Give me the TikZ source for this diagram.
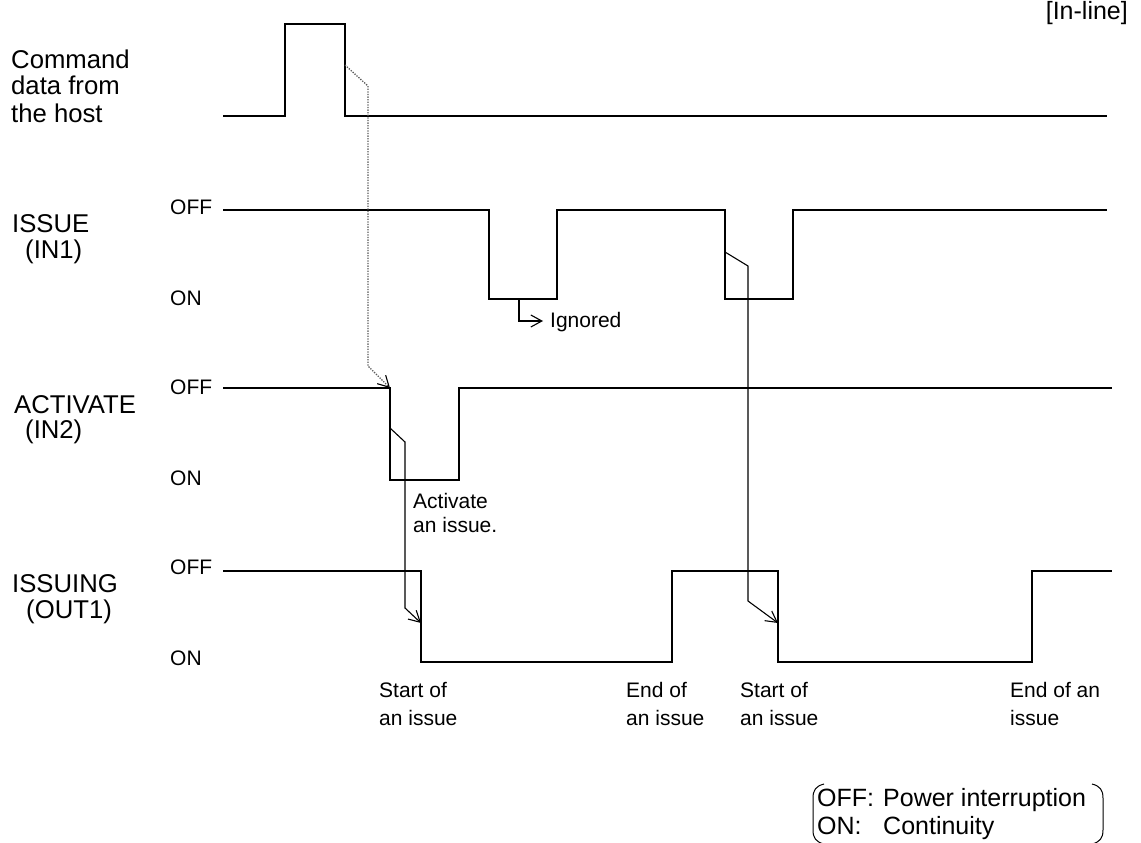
\documentclass[tikz,border=0pt]{standalone}
\usepackage{fontspec}
\setmainfont{Liberation Sans}
\usetikzlibrary{arrows.meta}
\tikzset{
  sig/.style={line width=1.8pt, line join=miter},
  ptr/.style={line width=1.1pt, -{Straight Barb[length=11pt,width=12pt,line width=1.1pt]}},
  dotptr/.style={line width=1.3pt, gray!70!black, dash pattern=on 1.3pt off 1.3pt, -{Straight Barb[length=11pt,width=12pt,line width=1.1pt,black]}},
  big/.style={font=\fontsize{25.7}{27}\selectfont, align=left, inner sep=0pt},
  small/.style={font=\fontsize{21}{27.5}\selectfont, align=left, inner sep=0pt},
  leg/.style={font=\fontsize{25}{28}\selectfont, align=left, inner sep=0pt},
}
\begin{document}
\begin{tikzpicture}[x=1pt,y=-1pt]
\useasboundingbox (0,0) rectangle (1141,843);
% waveform coordinates
\coordinate (c0) at (223,116); \coordinate (c1) at (285,116); \coordinate (c2) at (285,24);
\coordinate (c3) at (345,24); \coordinate (c4) at (345,116); \coordinate (c5) at (1107,116);
\draw[sig] (c0) -- (c1) -- (c2) -- (c3) -- (c4) -- (c5);

\coordinate (i0) at (223,210); \coordinate (i1) at (489,210); \coordinate (i2) at (489,299);
\coordinate (i3) at (557,299); \coordinate (i4) at (557,210); \coordinate (i5) at (725,210);
\coordinate (i6) at (725,299); \coordinate (i7) at (793,299); \coordinate (i8) at (793,210);
\coordinate (i9) at (1107,210);
\draw[sig] (i0) -- (i1) -- (i2) -- (i3) -- (i4) -- (i5) -- (i6) -- (i7) -- (i8) -- (i9);

\coordinate (a0) at (223,388); \coordinate (a1) at (390,388); \coordinate (a2) at (390,480);
\coordinate (a3) at (459,480); \coordinate (a4) at (459,388); \coordinate (a5) at (1112,388);
\draw[sig] (a0) -- (a1) -- (a2) -- (a3) -- (a4) -- (a5);

\coordinate (o0) at (223,571); \coordinate (o1) at (421,571); \coordinate (o2) at (421,662);
\coordinate (o3) at (672,662); \coordinate (o4) at (672,571); \coordinate (o5) at (778,571);
\coordinate (o6) at (778,662); \coordinate (o7) at (1032,662); \coordinate (o8) at (1032,571);
\coordinate (o9) at (1112,571);
\draw[sig] (o0) -- (o1) -- (o2) -- (o3) -- (o4) -- (o5) -- (o6) -- (o7) -- (o8) -- (o9);

% causal arrows
\coordinate (d0) at (345,65); \coordinate (d1) at (368,86); \coordinate (d2) at (368,366); \coordinate (d3) at (390,388);
\draw[dotptr] (d0) -- (d1) -- (d2) -- (d3);

\coordinate (g0) at (519,299); \coordinate (g1) at (519,321); \coordinate (g2) at (543,321);
\draw[ptr] (g0) -- (g1) -- (g2);

\coordinate (p0) at (390,428); \coordinate (p1) at (405,442); \coordinate (p2) at (405,608); \coordinate (p3) at (421,623);
\draw[ptr] (p0) -- (p1) -- (p2) -- (p3);

\coordinate (q0) at (725,252); \coordinate (q1) at (748,266); \coordinate (q2) at (748,601); \coordinate (q3) at (778,623);
\draw[ptr] (q0) -- (q1) -- (q2) -- (q3);

% labels
\node[leg, anchor=base east] (inline) at (1128,20) {[In-line]};
\node[big, anchor=base west] (cmd1) at (11,69) {Command};
\node[big, anchor=base west] (cmd2) at (11,95) {data from};
\node[big, anchor=base west] (cmd3) at (11,122) {the host};

\node[big, anchor=base west] (iss1) at (12,232) {ISSUE};
\node[big, anchor=base west] (iss2) at (25,258) {(IN1)};
\node[small, anchor=base west] (issoff) at (170,214) {OFF};
\node[small, anchor=base west] (isson) at (170,305) {ON};

\node[big, anchor=base west] (act1) at (14,413) {ACTIVATE};
\node[big, anchor=base west] (act2) at (25,438) {(IN2)};
\node[small, anchor=base west] (actoff) at (170,394) {OFF};
\node[small, anchor=base west] (acton) at (170,485) {ON};

\node[big, anchor=base west] (ing1) at (12,592) {ISSUING};
\node[big, anchor=base west] (ing2) at (26,618) {(OUT1)};
\node[small, anchor=base west] (ingoff) at (170,574) {OFF};
\node[small, anchor=base west] (ingon) at (170,665) {ON};

\node[small, anchor=base west] (ign) at (550,327) {Ignored};
\node[small, anchor=base west] (actis1) at (413,508) {Activate};
\node[small, anchor=base west] (actis2) at (413,532) {an issue.};

\node[small, anchor=base west] (s1a) at (379,697) {Start of};
\node[small, anchor=base west] (s1b) at (379,725) {an issue};
\node[small, anchor=base west] (e1a) at (626,697) {End of};
\node[small, anchor=base west] (e1b) at (626,725) {an issue};
\node[small, anchor=base west] (s2a) at (740,697) {Start of};
\node[small, anchor=base west] (s2b) at (740,725) {an issue};
\node[small, anchor=base west] (e2a) at (1010,697) {End of an};
\node[small, anchor=base west] (e2b) at (1010,725) {issue};

% legend
\node[leg, anchor=base west] (l1) at (817,806) {OFF:};
\node[leg, anchor=base west] (l2) at (883,806) {Power interruption};
\node[leg, anchor=base west] (l3) at (817,834) {ON:};
\node[leg, anchor=base west] (l4) at (883,834) {Continuity};
\draw[line width=1pt] (824,784) .. controls (816,786) and (813,790) .. (813,798) -- (813,830) .. controls (813,838) and (816,842) .. (824,844);
\draw[line width=1pt] (1092,784) .. controls (1100,786) and (1103,790) .. (1103,798) -- (1103,830) .. controls (1103,838) and (1100,842) .. (1092,844);
\end{tikzpicture}
\end{document}
